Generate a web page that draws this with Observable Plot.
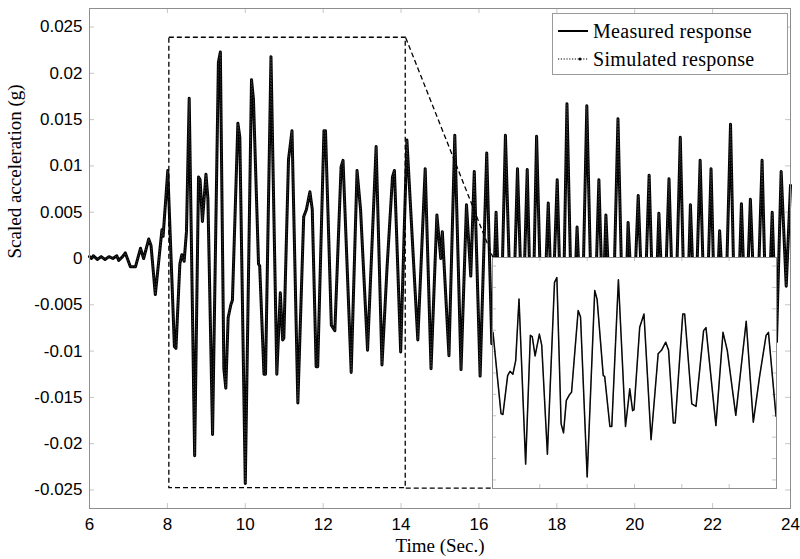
<!DOCTYPE html>
<html>
<head>
<meta charset="utf-8">
<script src="https://cdn.jsdelivr.net/npm/d3@7"></script>
<script src="https://cdn.jsdelivr.net/npm/@observablehq/plot@0.6"></script>
<style>
  html, body { margin: 0; padding: 0; background: #fff; }
  #chart { position: relative; width: 800px; height: 559px; }
  #chart > svg { display: block; }
  #inset { position: absolute; }
  #inset svg { display: block; overflow: visible; }
  #legend {
    position: absolute; box-sizing: border-box;
    background: #fff; border: 1px solid #9a9a9a;
    font-family: "Liberation Serif", "Times New Roman", serif;
    font-size: 20px; letter-spacing: 0.3px; color: #000;
  }
  #legend .row { position: absolute; left: 0; height: 22px; display: flex; align-items: center; }
  #legend svg { display: block; margin: 0 5px 0 5px; }
</style>
</head>
<body>
<div id="chart"></div>
<script>
// Scaled acceleration record (g) sampled at the turning points of the trace
const time = [
  6.00, 6.05, 6.10, 6.20, 6.30, 6.40, 6.50, 6.60, 6.70, 6.75, 6.85, 6.92, 7.05, 7.18, 7.31, 7.39,
  7.52, 7.58, 7.69, 7.86, 7.89, 8.01,
  8.18, 8.22, 8.32, 8.37, 8.43, 8.49, 8.56, 8.70, 8.80, 8.84, 8.90, 8.99, 9.04, 9.16, 9.31, 9.36,
  9.45, 9.50, 9.56, 9.63, 9.67, 9.81, 9.86, 10.00, 10.16, 10.21, 10.34, 10.37, 10.48, 10.52, 10.66,
  10.81, 10.90, 10.96, 10.99, 11.11, 11.20, 11.35, 11.50, 11.57, 11.66, 11.72, 11.82, 11.86, 12.02,
  12.06, 12.21, 12.30, 12.46, 12.51, 12.72, 12.87, 12.96, 13.14, 13.36, 13.51, 13.64, 13.78, 13.83,
  13.99, 14.15, 14.43, 14.62, 14.77, 14.92, 15.02, 15.06, 15.23, 15.38, 15.54, 15.68, 15.79, 15.88,
  16.03, 16.20, 16.33, 16.44, 16.55, 16.68, 16.85, 16.99, 17.12, 17.24, 17.36, 17.48, 17.63, 17.78,
  17.88, 18.01, 18.14, 18.26, 18.40, 18.52, 18.64, 18.77, 18.93, 19.08, 19.18, 19.26, 19.42, 19.57,
  19.72, 19.83, 19.96, 20.09, 20.23, 20.37, 20.50, 20.62, 20.75, 20.88, 21.02, 21.17, 21.31, 21.43,
  21.55, 21.68, 21.82, 21.96, 22.07, 22.18, 22.32, 22.46, 22.60, 22.74, 22.85, 22.97, 23.12, 23.27,
  23.40, 23.53, 23.64, 23.76, 23.89, 24.00
];
const measured = [
  0.0002, 0.0000, 0.0003, -0.0001, 0.0002, -0.0001, 0.0002, 0.0000, 0.0003, -0.0002, 0.0002, 0.0006,
  -0.0009, -0.0009, 0.0011, 0.0000, 0.0021, 0.0014, -0.0039, 0.0031, 0.0024, 0.0095,
  -0.0095, -0.0097, -0.0006, 0.0004, -0.0003, 0.0029, 0.0173, -0.0213, 0.0088, 0.0085, 0.0040,
  0.0091, 0.0065, -0.0190, 0.0212, 0.0223, -0.0119, -0.0140, -0.0064, -0.0050, -0.0045, 0.0146,
  0.0131, -0.0243, 0.0193, 0.0172, -0.0006, -0.0008, -0.0125, -0.0125, 0.0218, -0.0125, -0.0037,
  -0.0088, -0.0086, 0.0107, 0.0138, -0.0156, 0.0045, 0.0053, 0.0072, 0.0053, -0.0117, -0.0117,
  0.0138, 0.0138, -0.0072, -0.0078, 0.0099, 0.0106, -0.0123, 0.0095, 0.0053, -0.0099, 0.0121,
  -0.0115, -0.0010, 0.0088, 0.0095, -0.0101, 0.0128, -0.0088, 0.0097, -0.0119, 0.0047, 0.0000,
  0.0029, -0.0105, 0.0133, -0.0120, 0.0058, -0.0019, 0.0094, -0.0127, 0.0114, -0.0092, 0.0050,
  -0.0100, 0.0133, -0.0110, 0.0097, -0.0080, 0.0096, -0.0120, 0.0132, -0.0110, 0.0060, -0.0070,
  0.0085, -0.0120, 0.0167, -0.0100, 0.0034, -0.0090, 0.0165, -0.0130, 0.0085, -0.0060, 0.0047,
  -0.0110, 0.0151, -0.0120, 0.0039, -0.0070, 0.0068, -0.0090, 0.0090, -0.0100, 0.0049, -0.0080,
  0.0086, -0.0110, 0.0131, -0.0120, 0.0058, -0.0080, 0.0106, -0.0110, 0.0097, -0.0090, 0.0030,
  -0.0080, 0.0145, -0.0130, 0.0059, -0.0080, 0.0064, -0.0100, 0.0106, -0.0110, 0.0050, -0.0090,
  0.0094, -0.0030, 0.0079
];
// The simulated response lies on top of the measured one to within the line width
const simulated = measured.slice();

const xTicks = [6, 8, 10, 12, 14, 16, 18, 20, 22, 24];
const yTicks = [-0.025, -0.02, -0.015, -0.01, -0.005, 0, 0.005, 0.01, 0.015, 0.02, 0.025];
const insetXTicks = [8, 9, 10, 11, 12, 13, 14];
const seriesNames = ["Measured response", "Simulated response"];

// Window that is magnified, and where the magnified view sits (both in data units)
const zoomWindow = { x1: 8.05, x2: 14.12, y1: -0.0248, y2: 0.02384 };
const insetPlace = { x1: 16.36, x2: 23.64, y1: -0.0248, y2: 0.0001 };

const rows = time.map((t, i) => ({ t, measured: measured[i], simulated: simulated[i] }));

const W = 800, H = 559;
const M = { top: 8, right: 10, bottom: 51, left: 89 };
const innerW = W - M.left - M.right, innerH = H - M.top - M.bottom;
const tickLen = 5;
const tickGray = "#c6c6c6", frameGray = "#8e8e8e";
const serif = "Liberation Serif, Times New Roman, serif";

const main = Plot.plot({
  width: W, height: H,
  marginTop: M.top, marginRight: M.right, marginBottom: M.bottom, marginLeft: M.left,
  x: { domain: [6, 24] },
  y: { domain: [-0.027, 0.027] },
  style: { fontFamily: "Liberation Sans, Arial, sans-serif", fontSize: "17px", color: "#000", background: "#fff" },
  marks: [
    // inward ticks on all four sides
    Plot.tickX(xTicks, { x: d => d, insetBottom: innerH - tickLen, stroke: tickGray }),
    Plot.tickX(xTicks, { x: d => d, insetTop: innerH - tickLen, stroke: tickGray }),
    Plot.tickY(yTicks, { y: d => d, insetRight: innerW - tickLen, stroke: tickGray }),
    Plot.tickY(yTicks, { y: d => d, insetLeft: innerW - tickLen, stroke: tickGray }),
    Plot.axisX({ ticks: xTicks, tickSize: 0, tickPadding: 9, tickFormat: d => String(d), label: null }),
    Plot.axisY({ ticks: yTicks, tickSize: 0, tickPadding: 7, tickFormat: d => String(d), label: null }),
    Plot.line(rows, { x: "t", y: "measured", stroke: "#000", strokeWidth: 3, strokeLinejoin: "round" }),
    Plot.line(rows, { x: "t", y: "simulated", stroke: "#3a3a3a", strokeWidth: 0.9, strokeDasharray: "1,2" }),
    Plot.rect([zoomWindow], {
      x1: "x1", x2: "x2", y1: "y1", y2: "y2",
      fill: "none", stroke: "#000", strokeWidth: 1.3, strokeDasharray: "5,3"
    }),
    Plot.link([
      { x1: zoomWindow.x2, y1: zoomWindow.y2, x2: insetPlace.x1, y2: insetPlace.y2 },
      { x1: zoomWindow.x2, y1: zoomWindow.y1, x2: insetPlace.x1, y2: insetPlace.y1 }
    ], { x1: "x1", y1: "y1", x2: "x2", y2: "y2", stroke: "#000", strokeWidth: 1.3, strokeDasharray: "5,3" }),
    Plot.frame({ stroke: frameGray, strokeWidth: 1 }),
    Plot.text(["Time (Sec.)"], {
      frameAnchor: "bottom", dy: 37, lineAnchor: "middle",
      fontFamily: serif, fontSize: 19
    }),
    Plot.text(["Scaled acceleration (g)"], {
      frameAnchor: "left", dx: -75, rotate: -90, lineAnchor: "middle",
      fontFamily: serif, fontSize: 19
    })
  ]
});

const chart = document.getElementById("chart");
chart.appendChild(main);

// Magnified view of the zoom window, placed with the main chart's scales
const sx = main.scale("x"), sy = main.scale("y");
const insetLeft = sx.apply(insetPlace.x1), insetRight = sx.apply(insetPlace.x2);
const insetTop = sy.apply(insetPlace.y2), insetBottom = sy.apply(insetPlace.y1);
const iw = Math.round(insetRight - insetLeft), ih = Math.round(insetBottom - insetTop);
const insetRows = rows.filter(d => d.t >= 8 && d.t <= 14);

const inset = Plot.plot({
  width: iw, height: ih, margin: 0,
  x: { domain: [8, 14], axis: null },
  y: { domain: [-0.027, 0.027], axis: null },
  style: { background: "#fff", overflow: "visible" },
  marks: [
    Plot.tickX(insetXTicks, { x: d => d, insetBottom: ih - 4, stroke: tickGray }),
    Plot.tickX(insetXTicks, { x: d => d, insetTop: ih - 4, stroke: tickGray }),
    Plot.tickY(yTicks, { y: d => d, insetRight: iw - 4, stroke: tickGray }),
    Plot.tickY(yTicks, { y: d => d, insetLeft: iw - 4, stroke: tickGray }),
    Plot.line(insetRows, { x: "t", y: "measured", stroke: "#000", strokeWidth: 1.5, strokeLinejoin: "round" }),
    Plot.line(insetRows, { x: "t", y: "simulated", stroke: "#222", strokeWidth: 0.5, strokeDasharray: "1,2" }),
    Plot.frame({ stroke: frameGray, strokeWidth: 1 })
  ]
});
const insetBox = document.createElement("div");
insetBox.id = "inset";
insetBox.style.left = Math.round(insetLeft) + "px";
insetBox.style.top = Math.round(insetTop) + "px";
insetBox.appendChild(inset);
chart.appendChild(insetBox);

// Legend box
const legend = document.createElement("div");
legend.id = "legend";
Object.assign(legend.style, { left: "552px", top: "13px", width: "236px", height: "62px" });
seriesNames.forEach((name, i) => {
  const row = document.createElement("div");
  row.className = "row";
  row.style.top = (6 + i * 28) + "px";
  const sample = i === 0
    ? `<svg width="30" height="10"><line x1="0" y1="5" x2="30" y2="5" stroke="#000" stroke-width="2"/></svg>`
    : `<svg width="30" height="10"><line x1="0" y1="5" x2="30" y2="5" stroke="#000" stroke-width="1.2" stroke-dasharray="1.2,1.6"/><circle cx="22" cy="5" r="1.5" fill="#000"/></svg>`;
  row.innerHTML = sample + `<span>${name}</span>`;
  legend.appendChild(row);
});
chart.appendChild(legend);
</script>
</body>
</html>
